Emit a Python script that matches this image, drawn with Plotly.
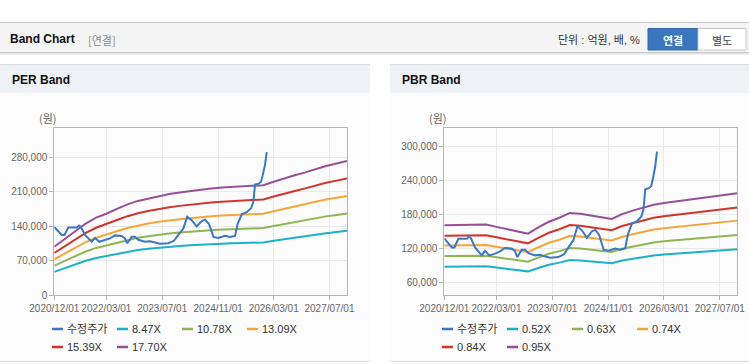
import plotly.graph_objects as go

# ---------------- data ----------------
band_dates = ['2020-12-01', '2021-03-01', '2021-06-01', '2021-09-01', '2021-12-01',
              '2022-03-01', '2022-06-01', '2022-09-01', '2022-12-01',
              '2023-03-01', '2023-06-01', '2023-09-01', '2023-12-01',
              '2024-03-01', '2024-06-01', '2024-09-01', '2024-12-01',
              '2025-03-01', '2025-06-01', '2025-09-01', '2025-12-01',
              '2026-03-01', '2026-06-01', '2026-09-01', '2026-12-01',
              '2027-03-01', '2027-06-01', '2027-09-01', '2027-12-01']

price_dates = ['2020-12-01', '2021-02-04', '2021-02-28', '2021-04-02', '2021-06-15', '2021-07-05',
               '2021-07-22', '2021-08-26', '2021-10-24', '2021-11-21', '2021-12-29', '2022-02-17',
               '2022-04-01', '2022-05-15', '2022-07-13', '2022-08-10', '2022-08-30', '2022-10-08',
               '2022-11-06', '2022-12-05', '2023-02-01', '2023-03-17', '2023-04-15', '2023-06-12',
               '2023-08-24', '2023-10-12', '2023-11-19', '2024-01-02', '2024-02-05', '2024-03-15',
               '2024-04-28', '2024-05-12', '2024-06-10', '2024-07-09', '2024-08-13', '2024-09-06',
               '2024-09-20', '2024-11-02', '2024-12-31', '2025-02-12', '2025-03-28', '2025-04-21',
               '2025-05-26', '2025-07-08', '2025-08-15', '2025-09-04', '2025-09-19', '2025-10-20',
               '2025-11-10', '2025-11-25', '2025-12-15', '2025-12-30']
price = [138000, 122000, 122000, 137000, 137000, 141000,
         138000, 122000, 108000, 116000, 108000, 111000,
         115000, 121000, 120000, 115000, 105000, 118000,
         118000, 112000, 108000, 109000, 107000, 104000,
         105000, 110000, 122000, 135000, 159000, 152000,
         139000, 142000, 150000, 153000, 144000, 128000,
         118000, 116000, 120000, 118000, 120000, 145000,
         164000, 168000, 176000, 189000, 224000, 226000,
         230000, 243000, 264000, 290000]

per_8_47 = [46900, 54600, 62200, 69400, 75100, 79000, 83700, 88000, 91400, 93800, 96200, 98100,
            99500, 101000, 102400, 103400, 104300, 105000, 105800, 106200, 106700, 110100, 113400,
            116300, 119200, 122500, 125400, 127800, 130200]
per_10_78 = [59700, 69400, 79200, 88300, 95600, 100500, 106600, 112100, 116300, 119400, 122400, 124900,
             126700, 128500, 130300, 131600, 132800, 133700, 134600, 135200, 135800, 140100, 144300,
             148000, 151700, 155900, 159600, 162600, 165700]
per_13_09 = [72500, 84300, 96100, 107200, 116100, 122000, 129400, 136100, 141300, 145000, 148600, 151600,
             153800, 156000, 158300, 159700, 161200, 162300, 163400, 164200, 164900, 170100, 175300,
             179700, 184100, 189300, 193800, 197500, 201200]
per_15_39 = [85200, 99100, 113000, 126100, 136500, 143500, 152200, 160000, 166100, 170400, 174800, 178200,
             180900, 183500, 186100, 187800, 189500, 190900, 192200, 193000, 193900, 200000, 206100,
             211300, 216500, 222600, 227800, 232200, 236500]
per_17_70 = [98000, 114000, 130000, 145000, 157000, 165000, 175000, 184000, 191000, 196000, 201000, 205000,
             208000, 211000, 214000, 216000, 218000, 219500, 221000, 222000, 223000, 230000, 237000,
             243000, 249000, 256000, 262000, 267000, 272000]

pbr_0_52 = [88100, 88400, 88700, 88700, 88700, 86500, 84300, 82700, 79900, 85900, 91400, 95200,
            99900, 99100, 97700, 95800, 94100, 98800, 102100, 105100, 107800, 109500, 110800,
            112200, 113600, 114900, 116300, 117400, 118800]
pbr_0_63 = [106800, 107100, 107400, 107400, 107400, 104800, 102100, 100100, 96800, 104100, 110700, 115400,
            121000, 120000, 118400, 116100, 114100, 119700, 123700, 127300, 130600, 132600, 134300,
            135900, 137600, 139300, 140900, 142200, 143900]
pbr_0_74 = [125400, 125800, 126200, 126200, 126200, 123100, 120000, 117600, 113700, 122300, 130100, 135500,
            142200, 141000, 139000, 136300, 134000, 140600, 145300, 149600, 153500, 155800, 157700,
            159700, 161600, 163600, 165500, 167100, 169000]
pbr_0_84 = [142400, 142800, 143200, 143200, 143200, 139700, 136200, 133500, 129100, 138800, 147700, 153900,
            161400, 160000, 157800, 154700, 152100, 159600, 164900, 169800, 174200, 176800, 179100,
            181300, 183500, 185700, 187900, 189700, 191900]
pbr_0_95 = [161000, 161500, 162000, 162000, 162000, 158000, 154000, 151000, 146000, 157000, 167000, 174000,
            182500, 181000, 178500, 175000, 172000, 180500, 186500, 192000, 197000, 200000, 202500,
            205000, 207500, 210000, 212500, 214500, 217000]

x_tickvals = ['2020-12-01', '2022-03-01', '2023-07-01', '2024-11-01', '2026-03-01', '2027-07-01']
x_ticktext = ['2020/12/01', '2022/03/01', '2023/07/01', '2024/11/01', '2026/03/01', '2027/07/01']
per_yticks = [0, 70000, 140000, 210000, 280000]
pbr_yticks = [60000, 120000, 180000, 240000, 300000]

price_name = '수정주가'
per_names = ['8.47X', '10.78X', '13.09X', '15.39X', '17.70X']
pbr_names = ['0.52X', '0.63X', '0.74X', '0.84X', '0.95X']

# ---------------- style ----------------
W, H = 749, 364
PRICE_COLOR = '#3b77c2'
BAND_COLORS = ['#1db1c9', '#8fb654', '#f5a53a', '#d1342d', '#974f9c']
TICK_FONT = dict(family='Liberation Sans, Arial', size=10, color='#666666')
KFONT = 'Liberation Sans, Noto Sans CJK KR'


def px(x):
    return x / W


def py(y):
    return 1 - y / H


fig = go.Figure()

per_bands = [per_8_47, per_10_78, per_13_09, per_15_39, per_17_70]
pbr_bands = [pbr_0_52, pbr_0_63, pbr_0_74, pbr_0_84, pbr_0_95]

for vals, name, col in zip(per_bands, per_names, BAND_COLORS):
    fig.add_trace(go.Scatter(x=band_dates, y=vals, name=name, mode='lines',
                             line=dict(color=col, width=2), xaxis='x', yaxis='y', showlegend=False))
fig.add_trace(go.Scatter(x=price_dates, y=price, name=price_name, mode='lines',
                         line=dict(color=PRICE_COLOR, width=2), xaxis='x', yaxis='y', showlegend=False))

for vals, name, col in zip(pbr_bands, pbr_names, BAND_COLORS):
    fig.add_trace(go.Scatter(x=band_dates, y=vals, name=name, mode='lines',
                             line=dict(color=col, width=2), xaxis='x2', yaxis='y2', showlegend=False))
fig.add_trace(go.Scatter(x=price_dates, y=price, name=price_name, mode='lines',
                         line=dict(color=PRICE_COLOR, width=2), xaxis='x2', yaxis='y2', showlegend=False))

axis_common = dict(showgrid=True, gridcolor='#e9e9e9', gridwidth=1, showline=True, linecolor='#b5b5b5',
                   linewidth=1, mirror=True, ticks='outside', ticklen=4, tickcolor='#b5b5b5',
                   tickfont=TICK_FONT, zeroline=False, fixedrange=True, automargin=False)

xcommon = dict(axis_common, type='date', range=['2020-12-01', '2027-12-01'], tickangle=0,
               tickmode='array', tickvals=x_tickvals, ticktext=x_ticktext)

fig.update_layout(
    width=W, height=H, margin=dict(l=0, r=0, t=0, b=0, autoexpand=False),
    paper_bgcolor='#ffffff', plot_bgcolor='#ffffff', showlegend=False,
    xaxis=dict(xcommon, domain=[px(54.3), px(347)], anchor='y'),
    yaxis=dict(axis_common, domain=[py(295), py(128)], anchor='x', range=[0, 339000],
               tickmode='array', tickvals=per_yticks, ticktext=[f'{v:,}' for v in per_yticks]),
    xaxis2=dict(xcommon, domain=[px(444.3), px(737.3)], anchor='y2'),
    yaxis2=dict(axis_common, domain=[py(295), py(128.3)], anchor='x2', range=[38400, 331100],
                tickmode='array', tickvals=pbr_yticks, ticktext=[f'{v:,}' for v in pbr_yticks]),
)

shapes = []
annotations = []


def rect(x0, y0, x1, y1, fill, line=None, lw=1):
    shapes.append(dict(type='rect', xref='paper', yref='paper', x0=px(x0), x1=px(x1), y0=py(y1), y1=py(y0),
                       fillcolor=fill, line=dict(color=line or fill, width=lw if line else 0), layer='below'))


def hline(x0, x1, y, color, lw=1):
    shapes.append(dict(type='line', xref='paper', yref='paper', x0=px(x0), x1=px(x1), y0=py(y), y1=py(y),
                       line=dict(color=color, width=lw), layer='below'))


def text(x, y, s, size=11, color='#333333', family=KFONT, anchor='left', bold=False):
    if bold:
        s = '<b>' + s + '</b>'
    annotations.append(dict(xref='paper', yref='paper', x=px(x), y=py(y), text=s, showarrow=False,
                            xanchor=anchor, yanchor='middle', font=dict(size=size, color=color, family=family)))


# top header
rect(0, 22, 749, 52, '#f4f4f4')
hline(0, 749, 22.5, '#c9c9c9')
hline(0, 749, 52.5, '#c8c8c8')
hline(0, 749, 53.5, '#e2e2e2')
hline(0, 749, 54.5, '#efefef')
text(8, 39, 'Band Chart', size=12, color='#111111', family='Liberation Sans, Arial', bold=True)
text(86, 39.5, '[연결]', size=11, color='#8a8a8a', family='Noto Sans CJK KR')
text(642, 39.5, '단위 : 억원, 배, %', size=11, color='#333333', anchor='right')
rect(648, 28.5, 698, 50, '#3a76bd', line='#2f65a8')
rect(698, 28.5, 746, 50, '#ffffff', line='#c6c6c6')
text(673, 39.5, '연결', size=11, color='#ffffff', family='Noto Sans CJK KR', anchor='center', bold=True)
text(722, 39.5, '별도', size=11, color='#444444', family='Noto Sans CJK KR', anchor='center')

# panels
for (x0, x1, title) in [(0, 370, 'PER Band'), (390, 749, 'PBR Band')]:
    rect(x0, 64, x1, 93, '#eef1f6')
    hline(x0, x1, 64.5, '#d9dce1')
    rect(x0, 93, x1, 361, '#fcfcfc')
    hline(x0, x1, 361.5, '#dcdcdc')
    text(x0 + 10, 79.5, title, size=12, color='#111111', family='Liberation Sans, Arial', bold=True)

text(48, 118, '(원)', size=11, color='#666666', family='Noto Sans CJK KR', anchor='center')
text(438, 118, '(원)', size=11, color='#666666', family='Noto Sans CJK KR', anchor='center')

# manual legends
legend_slots = [(0, 329), (65, 329), (130, 329), (195, 329), (0, 347), (65, 347)]
for base, names in [(52, [price_name] + per_names), (442, [price_name] + pbr_names)]:
    cols = [PRICE_COLOR] + BAND_COLORS
    for (dx, yy), nm, col in zip(legend_slots, names, cols):
        x = base + dx
        hline(x, x + 11, yy, col, lw=2.5)
        text(x + 13, yy, nm, size=11, color='#333333')

fig.update_layout(shapes=shapes, annotations=annotations)
fig.write_html('out.html', config=dict(displayModeBar=False),
               post_script="document.body.style.margin='0';document.body.style.overflow='hidden';")
